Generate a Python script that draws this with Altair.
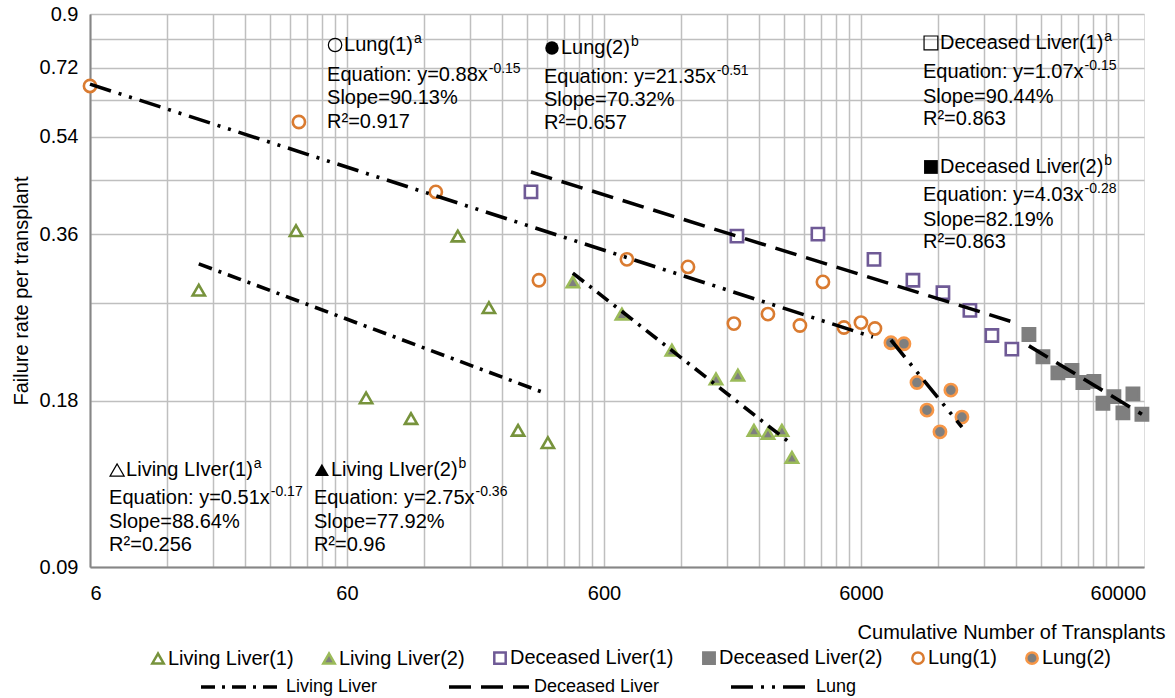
import altair as alt
import pandas as pd

# ---------------- data ----------------
series_names = ["Living Liver(1)", "Living Liver(2)", "Deceased Liver(1)",
                "Deceased Liver(2)", "Lung(1)", "Lung(2)"]

ll1_x = [15.9, 38.0, 71.2, 106.5, 162, 214, 278, 363]
ll1_y = [0.285, 0.365, 0.182, 0.167, 0.357, 0.265, 0.159, 0.151]
ll2_x = [454, 705, 1103, 1637, 1992, 2301, 2608, 2956, 3233]
ll2_y = [0.295, 0.258, 0.222, 0.197, 0.200, 0.159, 0.157, 0.159, 0.142]
dl1_x = [312, 1975, 4081, 6745, 9560, 12510, 15930, 19400, 23200]
dl1_y = [0.429, 0.357, 0.360, 0.324, 0.297, 0.282, 0.262, 0.236, 0.223]
dl2_x = [27030, 30650, 35050, 39730, 43840, 48390, 52460, 57880, 62750, 68640, 74400]
dl2_y = [0.237, 0.216, 0.202, 0.204, 0.194, 0.195, 0.178, 0.183, 0.171, 0.185, 0.170]
lu1_x = [6, 39.0, 133, 335, 737, 1274, 1922, 2608, 3473, 4268, 5152, 6000, 6803]
lu1_y = [0.667, 0.574, 0.429, 0.297, 0.324, 0.314, 0.248, 0.258, 0.246, 0.295, 0.244, 0.249, 0.243]
lu2_x = [7850, 8820, 9913, 10840, 12180, 13430, 14830]
lu2_y = [0.229, 0.228, 0.194, 0.173, 0.158, 0.188, 0.168]

# trend lines (power fits, straight on log-log): end points
trend_groups = ["Living Liver", "Deceased Liver", "Lung"]
trend_seg = ["Living Liver(1)", "Living Liver(2)", "Deceased Liver(1)",
             "Deceased Liver(2)", "Lung(1)", "Lung(2)"]
trend_kind = ["Living Liver", "Living Liver", "Deceased Liver",
              "Deceased Liver", "Lung", "Lung"]
trend_x0 = [15.9, 454, 312, 27030, 6, 7850]
trend_y0 = [0.318, 0.306, 0.466, 0.226, 0.672, 0.2316]
trend_x1 = [350, 3233, 23200, 74400, 6680, 14830]
trend_y1 = [0.186, 0.150, 0.250, 0.170, 0.2345, 0.1612]

# annotation blocks
ann_title = ["Lung(1)", "Lung(2)", "Deceased Liver(1)", "Deceased Liver(2)",
             "Living LIver(1)", "Living LIver(2)"]
ann_title_sup = ["a", "b", "a", "b", "a", "b"]
ann_glyph = ["circle", "circle", "square", "square", "triangle-up", "triangle-up"]
ann_glyph_filled = [False, True, False, True, False, True]
ann_eq = ["Equation: y=0.88x", "Equation: y=21.35x", "Equation: y=1.07x",
          "Equation: y=4.03x", "Equation: y=0.51x", "Equation: y=2.75x"]
ann_eq_sup = ["-0.15", "-0.51", "-0.15", "-0.28", "-0.17", "-0.36"]
ann_slope = ["Slope=90.13%", "Slope=70.32%", "Slope=90.44%", "Slope=82.19%",
             "Slope=88.64%", "Slope=77.92%"]
ann_r2 = ["R\u00B2=0.917", "R\u00B2=0.657", "R\u00B2=0.863", "R\u00B2=0.863",
          "R\u00B2=0.256", "R\u00B2=0.96"]
ann_x = [50.2, 350.5, 10458, 10458, 7.12, 44.6]
ann_y = [
    [0.791, 0.698, 0.634, 0.574],
    [0.781, 0.692, 0.629, 0.572],
    [0.798, 0.707, 0.637, 0.581],
    [0.476, 0.424, 0.3816, 0.3483],
    [0.1348, 0.1199, 0.1085, 0.0987],
    [0.1348, 0.1199, 0.1085, 0.0987],
]

x_label_values = [6, 60, 600, 6000, 60000]
y_label_values = [0.09, 0.18, 0.36, 0.54, 0.72, 0.9]

# ---------------- helpers (text metrics for placing superscripts) ----------------
FONT = "Liberation Sans"
GRID = "#BFBFBF"
FS = 20
SUP_FS = 14
_W = {"E": 667, "q": 556, "u": 556, "a": 556, "t": 278, "i": 222, "o": 556, "n": 556,
      ":": 278, " ": 278, "y": 500, "=": 584, ".": 278, "x": 500, "L": 556, "g": 556,
      "(": 333, ")": 333, "D": 722, "e": 556, "c": 500, "s": 500, "d": 556, "v": 500,
      "r": 333, "I": 278, "R": 722, "S": 667, "l": 222, "p": 556, "%": 889, "-": 333}


def text_width(s, size):
    return sum(_W.get(ch, 556) for ch in s) * size / 1000.0


GLYPH_W = 17  # space taken by the marker glyph before a block title

# ---------------- tables ----------------
rows = []
for name, xs, ys in zip(series_names,
                        [ll1_x, ll2_x, dl1_x, dl2_x, lu1_x, lu2_x],
                        [ll1_y, ll2_y, dl1_y, dl2_y, lu1_y, lu2_y]):
    for xv, yv in zip(xs, ys):
        rows.append({"series": name, "x": xv, "y": yv})
pts = pd.DataFrame(rows)

trows = []
for seg, kind, x0, y0, x1, y1 in zip(trend_seg, trend_kind, trend_x0, trend_y0, trend_x1, trend_y1):
    trows.append({"seg": seg, "trend": kind, "x": x0, "y": y0})
    trows.append({"seg": seg, "trend": kind, "x": x1, "y": y1})
trend_df = pd.DataFrame(trows)

title_rows, body_rows = [], []
for i in range(6):
    xv, ys = ann_x[i], ann_y[i]
    title_rows.append({"x": xv, "y": ys[0], "t": ann_title[i]})
    body_rows.append({"x": xv, "y": ys[1], "t": ann_eq[i]})
    body_rows.append({"x": xv, "y": ys[2], "t": ann_slope[i]})
    body_rows.append({"x": xv, "y": ys[3], "t": ann_r2[i]})
title_df = pd.DataFrame(title_rows)
body_df = pd.DataFrame(body_rows)

x_grid = sorted(set([b * k for b in x_label_values[:-1] for k in range(1, 10)] + [x_label_values[-1]]))
y_grid = [round(0.09 * k, 2) for k in range(1, 11)]
x_lab_str = "[" + ",".join("'%d'" % v for v in x_label_values) + "]"
y_lab_str = "[" + ",".join("'%s'" % ("%g" % v) for v in y_label_values) + "]"

xscale = alt.Scale(type="log", domain=[6, 75800], nice=False)
yscale = alt.Scale(type="log", domain=[0.09, 0.9], nice=False)

xaxis = alt.Axis(values=x_grid, format="d",
                 labelExpr="indexof(%s, datum.label) >= 0 ? datum.label : ''" % x_lab_str,
                 grid=True, gridColor=GRID, gridWidth=1.5, ticks=False, tickSize=0,
                 domainColor="#868686", domainWidth=2, labelFontSize=FS, labelColor="#000000",
                 labelPadding=16, labelFont=FONT, labelOverlap=False,
                 title="Cumulative Number of Transplants", titleFont=FONT, titleFontSize=FS,
                 titleFontWeight="normal", titleColor="#000000", titleX=1075, titleY=65,
                 titleAlign="right", titleBaseline="middle", titleAnchor="end")
yaxis = alt.Axis(values=y_grid, format=".2~f",
                 labelExpr="indexof(%s, datum.label) >= 0 ? datum.label : ''" % y_lab_str,
                 grid=True, gridColor=GRID, gridWidth=1.5, ticks=False, tickSize=0,
                 domainColor="#868686", domainWidth=2, labelFontSize=FS, labelColor="#000000",
                 labelPadding=12, labelFont=FONT, labelOverlap=False,
                 title="Failure rate per transplant", titleFont=FONT, titleFontSize=FS,
                 titleFontWeight="normal", titleColor="#000000", titlePadding=8)

shapes = ["triangle-up", "triangle-up", "square", "square", "circle", "circle"]
strokes = ["#77933C", "#9BBB59", "#6F5A96", "#7F7F7F", "#DA7B30", "#F79646"]
fills = ["#FFFFFF", "#7F7F7F", "#FFFFFF", "#7F7F7F", "#FFFFFF", "#7F7F7F"]

leg_pts = alt.Legend(title=None, orient="none", legendX=58, legendY=634, direction="horizontal",
                     columns=6, labelFontSize=FS, labelFont=FONT, labelColor="#000000",
                     labelLimit=0, symbolSize=130, symbolStrokeWidth=2.5, columnPadding=24,
                     labelOffset=0, padding=0)

points = alt.Chart(pts).mark_point(size=150, strokeWidth=2.6, opacity=1, fillOpacity=1).encode(
    x=alt.X("x:Q", scale=xscale, axis=xaxis),
    y=alt.Y("y:Q", scale=yscale, axis=yaxis),
    shape=alt.Shape("series:N", scale=alt.Scale(domain=series_names, range=shapes), legend=leg_pts),
    stroke=alt.Stroke("series:N", scale=alt.Scale(domain=series_names, range=strokes), legend=leg_pts),
    fill=alt.Fill("series:N", scale=alt.Scale(domain=series_names, range=fills), legend=leg_pts),
)

dashes = [[14, 7, 3, 7], [22, 10], [22, 8, 3, 8, 3, 8]]
leg_lines = alt.Legend(title=None, orient="none", legendX=109, legendY=631, direction="horizontal",
                       columns=3, labelFontSize=18, labelFont=FONT, labelColor="#000000",
                       labelLimit=0, symbolType="stroke", symbolSize=6400, symbolStrokeWidth=3.5,
                       symbolStrokeColor="#000000", columnPadding=64, labelOffset=3, padding=0)

lines = alt.Chart(trend_df).mark_line(color="#000000", strokeWidth=3.6).encode(
    x=alt.X("x:Q", scale=xscale),
    y=alt.Y("y:Q", scale=yscale),
    detail="seg:N",
    strokeDash=alt.StrokeDash("trend:N", scale=alt.Scale(domain=trend_groups, range=dashes),
                              legend=leg_lines),
)

enc_xy = dict(x=alt.X("x:Q", scale=xscale), y=alt.Y("y:Q", scale=yscale))

titles = alt.Chart(title_df).mark_text(align="left", baseline="middle", fontSize=FS, font=FONT,
                                        color="#000000", dx=GLYPH_W).encode(text="t:N", **enc_xy)
bodies = alt.Chart(body_df).mark_text(align="left", baseline="middle", fontSize=FS, font=FONT,
                                       color="#000000").encode(text="t:N", **enc_xy)

extra_layers = []
for i in range(6):
    # marker glyph in front of the block title
    gdf = pd.DataFrame([{"x": ann_x[i], "y": ann_y[i][0]}])
    extra_layers.append(
        alt.Chart(gdf).mark_point(
            shape=ann_glyph[i], filled=ann_glyph_filled[i], xOffset=8,
            size=200 if ann_glyph[i] == "triangle-up" else (180 if ann_glyph[i] == "circle" else 190),
            color="#000000", strokeWidth=1.2, opacity=1,
        ).encode(**enc_xy)
    )
    # superscript after the title
    sdf = pd.DataFrame([{"x": ann_x[i], "y": ann_y[i][0], "t": ann_title_sup[i]}])
    extra_layers.append(
        alt.Chart(sdf).mark_text(align="left", baseline="middle", fontSize=SUP_FS, font=FONT,
                                 color="#000000", dy=-6,
                                 dx=GLYPH_W + text_width(ann_title[i], FS) + 1
                                 ).encode(text="t:N", **enc_xy)
    )
    # exponent after the equation
    edf = pd.DataFrame([{"x": ann_x[i], "y": ann_y[i][1], "t": ann_eq_sup[i]}])
    extra_layers.append(
        alt.Chart(edf).mark_text(align="left", baseline="middle", fontSize=SUP_FS, font=FONT,
                                 color="#000000", dy=-6,
                                 dx=text_width(ann_eq[i], FS) + 1
                                 ).encode(text="t:N", **enc_xy)
    )

chart = alt.layer(points, lines, titles, bodies, *extra_layers).properties(
    width=1054, height=553,
    autosize=alt.AutoSizeParams(type="none"),
    padding={"left": 90, "top": 14, "right": 31, "bottom": 131},
).configure_view(stroke=GRID, strokeWidth=1.5).configure(font=FONT)

chart.save("out.html", embed_options={"renderer": "svg", "actions": False})
